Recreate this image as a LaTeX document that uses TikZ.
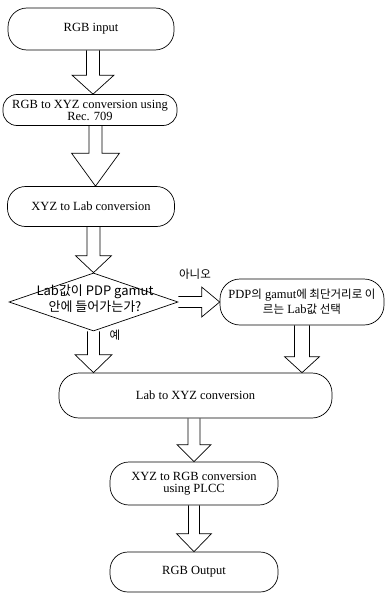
\documentclass[tikz,border=0pt]{standalone}
\usepackage{fontspec}
\setmainfont{Liberation Serif}
\newfontfamily\kr{Noto Sans CJK KR}
\usetikzlibrary{shapes.geometric,calc}
\tikzset{
  box/.style={draw, line width=0.7pt, rounded corners=18pt, align=center, inner sep=1pt,
    font=\fontsize{12.5}{12}\selectfont},
  arr/.style={draw, line width=0.7pt, line join=miter},
  lbl/.style={font=\kr\fontsize{11.5}{12}\selectfont, inner sep=0pt}
}
\newcommand\vbarrow[5]{%
  \draw[arr] let \p1=#1, \p2=#2 in (\x1-#3,\y1) -- (\x1-#3,\y2+#5) -- (\x1-#4,\y2+#5)
    -- (\x1,\y2) -- (\x1+#4,\y2+#5) -- (\x1+#3,\y2+#5) -- (\x1+#3,\y1);}
\begin{document}
\begin{tikzpicture}[x=1pt,y=1pt]
\useasboundingbox (0,0) rectangle (387,-594);
% boxes
\node[box, rounded corners=19pt, minimum width=166pt, minimum height=42pt] (b1) at (91,-29) {RGB input};
\node[box, rounded corners=14pt, minimum width=174pt, minimum height=31pt] (b2) at (90,-110) {RGB to XYZ conversion using\\Rec. 709};
\node[box, rounded corners=18pt, minimum width=167pt, minimum height=40pt] (b3) at (91,-206.5) {XYZ to Lab conversion};
\node[diamond, draw, line width=0.7pt, minimum width=169pt, minimum height=58pt, inner sep=0pt] (d) at (93.5,-302) {};
\node[font=\kr\fontsize{13}{16}\selectfont, align=center, inner sep=0pt] (dt) at (95,-299) {Lab값이 PDP gamut\\안에 들어가는가?};
\node[box, rounded corners=20pt, minimum width=164pt, minimum height=46pt] (b4) at (302,-302) {PDP{\kr\fontsize{11.5}{12}\selectfont 의} gamut{\kr\fontsize{11.5}{12}\selectfont 에 최단거리로 이}\\[2pt]{\kr\fontsize{11.5}{12}\selectfont 르는} Lab{\kr\fontsize{11.5}{12}\selectfont 값 선택}};
\node[box, rounded corners=20pt, minimum width=273pt, minimum height=45pt] (b5) at (195.5,-395.5) {Lab to XYZ conversion};
\node[box, rounded corners=19pt, minimum width=168pt, minimum height=43pt] (b6) at (194,-483.5) {XYZ to RGB conversion\\using PLCC};
\node[box, rounded corners=18pt, minimum width=168pt, minimum height=40pt] (b7) at (194,-572) {RGB Output};
% labels
\node[lbl] (no) at (195,-274) {아니오};
\node[lbl] (yes) at (115,-335) {예};
% block arrows
\vbarrow{($(b1.south)+(2,0)$)}{(b2.north)}{6.5pt}{21pt}{19pt}
\vbarrow{($(b2.south)+(5.5,0)$)}{(b3.north)}{6.5pt}{24pt}{33pt}
\vbarrow{($(b3.south)+(2.5,0)$)}{(d.north)}{6.5pt}{18pt}{17pt}
\vbarrow{(d.south)}{(b5.north)}{6pt}{18.5pt}{18pt}
\vbarrow{(b4.south)}{(b5.north)}{7.5pt}{17.5pt}{16pt}
\vbarrow{($(b5.south)+(-1.5,0)$)}{(b6.north)}{6pt}{17pt}{17pt}
\vbarrow{(b6.south)}{(b7.north)}{5.5pt}{17.5pt}{18pt}
\draw[arr] let \p1=(d.east), \p2=(b4.west) in (\x1,\y1+5.5) -- (\x2-18,\y1+5.5) -- (\x2-18,\y1+15)
  -- (\x2,\y1) -- (\x2-18,\y1-15) -- (\x2-18,\y1-5.5) -- (\x1,\y1-5.5);
\end{tikzpicture}
\end{document}
